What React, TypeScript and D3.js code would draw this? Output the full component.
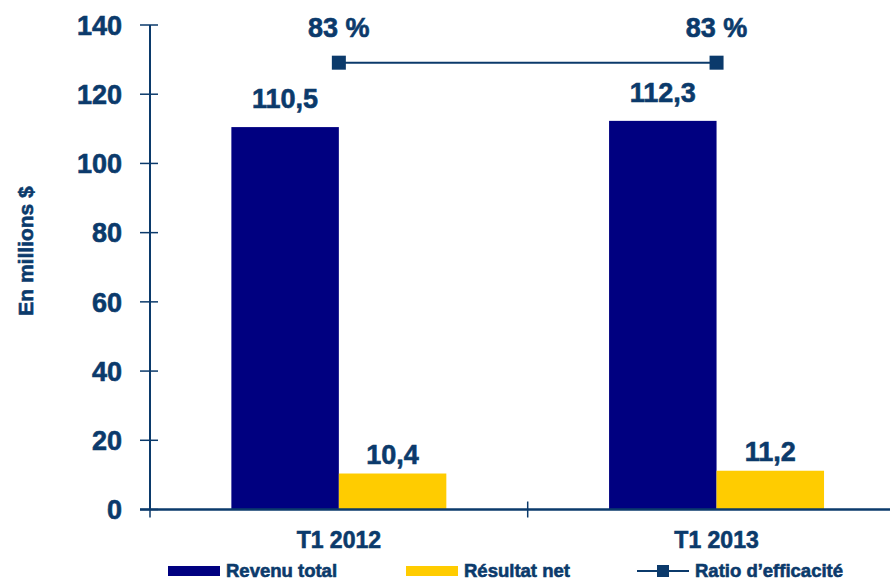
import React, { useEffect, useRef } from 'react'
import * as d3 from 'd3'

// data
const categories = ['T1 2012', 'T1 2013']
const seriesNames = ['Revenu total', 'Résultat net']
const revenuTotal = [110.5, 112.3]
const resultatNet = [10.4, 11.2]
const ratioEfficacite = [83, 83]
const yTicks = [0, 20, 40, 60, 80, 100, 120, 140]
const lineName = "Ratio d’efficacité"

const W = 890
const H = 581
const NAVY = '#000080'
const YELLOW = '#FFCC00'
const INK = '#0b3a6b'
const FONT = '"Liberation Sans", Arial, sans-serif'

const fmt = (v: number) => v.toFixed(1).replace('.', ',')

const App: React.FC = () => {
  const svgRef = useRef<SVGSVGElement>(null)

  useEffect(() => {
    const svg = d3.select(svgRef.current)
    svg.selectAll('*').remove()

    const left = 150
    const top = 25
    const bottom = 509.5
    // the category axis runs past the right edge, like the original
    const x = d3.scaleBand<string>().domain(categories).range([left, 905.4]).padding(0)
    const y = d3.scaleLinear().domain([0, 140]).range([bottom, top])
    // hidden secondary axis for the ratio
    const y2 = d3.scaleLinear().domain([0, 90]).range([bottom, top])

    const inner = d3.scaleBand<string>()
      .domain(seriesNames)
      .range([0, x.bandwidth()])
      .paddingInner(0)
      .paddingOuter(0.757)

    const series = [
      { name: seriesNames[0], values: revenuTotal, color: NAVY, labelGap: 19 },
      { name: seriesNames[1], values: resultatNet, color: YELLOW, labelGap: 10 },
    ]

    const g = svg.append('g')
      .attr('font-family', FONT)
      .attr('font-weight', 'bold')
      .attr('fill', INK)

    // text gets a thin outline so it reads as heavy as the original
    const heavy = (sel: d3.Selection<SVGTextElement, any, any, any>) =>
      sel.attr('stroke', INK).attr('stroke-width', 0.6).attr('paint-order', 'stroke')

    // bars
    series.forEach(s => {
      g.selectAll(null)
        .data(categories)
        .enter()
        .append('rect')
        .attr('x', (c) => (x(c) ?? 0) + (inner(s.name) ?? 0))
        .attr('y', (_, i) => y(s.values[i]))
        .attr('width', inner.bandwidth())
        .attr('height', (_, i) => bottom - y(s.values[i]))
        .attr('fill', s.color)

      g.selectAll(null)
        .data(categories)
        .enter()
        .append('text')
        .attr('x', (c) => (x(c) ?? 0) + (inner(s.name) ?? 0) + inner.bandwidth() / 2)
        .attr('y', (_, i) => y(s.values[i]) - s.labelGap)
        .attr('text-anchor', 'middle')
        .attr('font-size', 27)
        .attr('fill', INK)
        .call(heavy)
        .text((_, i) => fmt(s.values[i]))
    })

    // axes
    g.append('line')
      .attr('x1', left).attr('x2', left)
      .attr('y1', y(140)).attr('y2', bottom)
      .attr('stroke', INK).attr('stroke-width', 2)

    g.append('line')
      .attr('x1', left - 10).attr('x2', W)
      .attr('y1', bottom).attr('y2', bottom)
      .attr('stroke', INK).attr('stroke-width', 2.5)

    yTicks.forEach(t => {
      g.append('line')
        .attr('x1', left - 10).attr('x2', left + 8)
        .attr('y1', y(t)).attr('y2', y(t))
        .attr('stroke', INK).attr('stroke-width', 1.5)
      g.append('text')
        .attr('x', left - 28)
        .attr('y', y(t))
        .attr('dy', '0.36em')
        .attr('text-anchor', 'end')
        .attr('font-size', 27)
        .call(heavy)
        .text(t)
    })

    // category separators
    categories.forEach((c, i) => {
      const xs = [x(c) ?? 0]
      if (i === categories.length - 1) xs.push((x(c) ?? 0) + x.bandwidth())
      xs.forEach(xv => {
        g.append('line')
          .attr('x1', xv).attr('x2', xv)
          .attr('y1', bottom - 8).attr('y2', bottom + 8)
          .attr('stroke', INK).attr('stroke-width', 1.5)
      })
      g.append('text')
        .attr('x', (x(c) ?? 0) + x.bandwidth() / 2)
        .attr('y', 548)
        .attr('text-anchor', 'middle')
        .attr('font-size', 23)
        .call(heavy)
        .text(c)
    })

    // ratio line
    const line = d3.line<number>()
      .x((_, i) => (x(categories[i]) ?? 0) + x.bandwidth() / 2)
      .y(d => y2(d))

    g.append('path')
      .datum(ratioEfficacite)
      .attr('d', line)
      .attr('fill', 'none')
      .attr('stroke', INK)
      .attr('stroke-width', 2)

    ratioEfficacite.forEach((v, i) => {
      const cx = (x(categories[i]) ?? 0) + x.bandwidth() / 2
      g.append('rect')
        .attr('x', cx - 7).attr('y', y2(v) - 7)
        .attr('width', 14).attr('height', 14)
        .attr('fill', INK)
      g.append('text')
        .attr('x', cx)
        .attr('y', y2(v) - 26)
        .attr('text-anchor', 'middle')
        .attr('font-size', 27)
        .call(heavy)
        .text(`${v} %`)
    })

    // y title
    g.append('text')
      .attr('transform', `translate(33,251) rotate(-90)`)
      .attr('text-anchor', 'middle')
      .attr('font-size', 21)
      .call(heavy)
      .text('En millions $')

    // legend
    const legendY = 577
    const items = [
      { x: 168, label: seriesNames[0], color: NAVY },
      { x: 406, label: seriesNames[1], color: YELLOW },
    ]
    items.forEach(it => {
      g.append('rect')
        .attr('x', it.x).attr('y', 566)
        .attr('width', 52).attr('height', 10)
        .attr('fill', it.color)
      g.append('text')
        .attr('x', it.x + 58).attr('y', legendY)
        .attr('font-size', 18.5)
        .call(heavy)
        .text(it.label)
    })
    g.append('line')
      .attr('x1', 637).attr('x2', 689)
      .attr('y1', 571).attr('y2', 571)
      .attr('stroke', INK).attr('stroke-width', 2)
    g.append('rect')
      .attr('x', 657).attr('y', 565)
      .attr('width', 12).attr('height', 12)
      .attr('fill', INK)
    g.append('text')
      .attr('x', 695).attr('y', legendY)
      .attr('font-size', 18.5)
      .call(heavy)
      .text(lineName)
  }, [])

  return (
    <svg
      ref={svgRef}
      width={W}
      height={H}
      style={{ position: 'absolute', left: 0, top: 0, background: '#fff' }}
    />
  )
}

export default App
